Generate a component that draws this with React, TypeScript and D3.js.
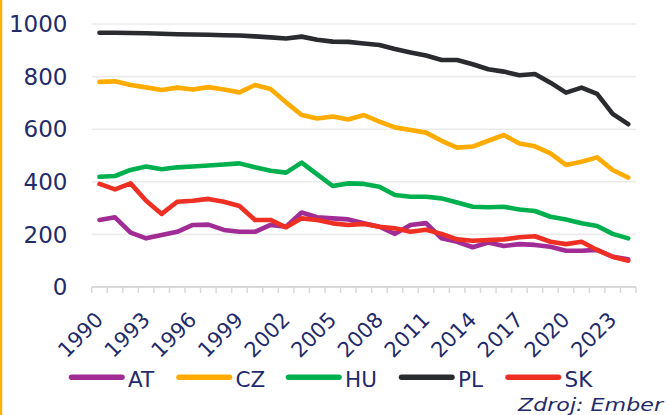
import React from "react";
import * as d3 from "d3";

const years = d3.range(1990, 2025).map(String);
const tickYears = ["1990", "1993", "1996", "1999", "2002", "2005", "2008", "2011", "2014", "2017", "2020", "2023"];
const yTicks = [0, 200, 400, 600, 800, 1000];

const AT = [255, 265, 207, 185, 198, 210, 236, 237, 217, 210, 210, 236, 229, 283, 265, 261, 257, 242, 229, 202, 236, 243, 185, 172, 151, 169, 156, 163, 160, 153, 138, 138, 141, 115, 105];
const CZ = [780, 782, 768, 759, 749, 758, 751, 760, 751, 740, 768, 753, 702, 654, 641, 648, 637, 654, 629, 607, 597, 587, 556, 530, 534, 556, 578, 546, 535, 508, 464, 476, 493, 445, 416];
const HU = [419, 422, 445, 458, 448, 455, 458, 462, 466, 470, 455, 442, 435, 473, 428, 384, 394, 392, 381, 350, 343, 343, 337, 321, 305, 303, 305, 295, 289, 267, 257, 242, 232, 202, 185];
const PL = [967, 967, 966, 965, 963, 961, 960, 959, 957, 956, 953, 949, 945, 952, 940, 933, 932, 926, 920, 905, 892, 880, 863, 863, 847, 828, 819, 805, 810, 777, 739, 758, 734, 658, 619];
const SK = [392, 371, 394, 328, 278, 324, 328, 335, 324, 308, 255, 255, 227, 261, 255, 242, 236, 240, 229, 223, 210, 218, 202, 181, 176, 179, 181, 189, 193, 172, 163, 172, 141, 115, 100];

const seriesNames = ["AT", "CZ", "HU", "PL", "SK"];
const seriesValues = [AT, CZ, HU, PL, SK];
const seriesColors = ["#A12C95", "#FFAB00", "#00B04F", "#2A2B2F", "#EE3024"];

const TEXT = "#1F2B6B";
const FONT = "'DejaVu Sans', sans-serif";

export default function App() {
  const W = 668, H = 415;
  const x = d3.scaleBand<string>().domain(years).range([91.7, 636]).padding(0);
  const y = d3.scaleLinear().domain([0, 1000]).range([287, 24]);
  const cx = (yr: string) => (x(yr) as number) + x.bandwidth() / 2;
  const line = d3
    .line<number>()
    .x((_, i) => cx(years[i]))
    .y((v) => y(v));
  const legendX = [69, 176.5, 286, 399, 505.5];
  const boundaries = years.map((yr) => x(yr) as number).concat([636]);

  return (
    <svg width={W} height={H} style={{ position: "absolute", left: 0, top: 0, background: "#fff" }} fontFamily={FONT}>
      <rect x={0} y={0} width={W} height={H} fill="#fff" />
      <rect x={0} y={0} width={2.2} height={H} fill="#FFB000" />
      {yTicks.filter((t) => t > 0).map((t) => (
        <line key={t} x1={91.7} x2={636} y1={y(t)} y2={y(t)} stroke="#EBEBEB" strokeWidth={1.6} />
      ))}
      {yTicks.map((t) => (
        <text key={"yl" + t} x={67.5} y={y(t)} dy="0.36em" textAnchor="end" fontSize={23} fill={TEXT}>
          {t}
        </text>
      ))}
      <line x1={91.7} x2={636} y1={287} y2={287} stroke="#D9D9D9" strokeWidth={2} />
      {boundaries.map((b, i) => (
        <line key={"tk" + i} x1={b} x2={b} y1={287} y2={293} stroke="#D9D9D9" strokeWidth={1.5} />
      ))}
      {tickYears.map((yr) => (
        <text
          key={"xl" + yr}
          transform={`translate(${cx(yr) + 5},${321}) rotate(-45)`}
          textAnchor="end"
          fontSize={21}
          fill={TEXT}
        >
          {yr}
        </text>
      ))}
      {seriesValues.map((vals, i) => (
        <path
          key={seriesNames[i]}
          d={line(vals) || ""}
          fill="none"
          stroke={seriesColors[i]}
          strokeWidth={4.6}
          strokeLinejoin="round"
          strokeLinecap="round"
        />
      ))}
      {seriesNames.map((n, i) => (
        <g key={"lg" + n}>
          <line
            x1={legendX[i] + 2.5}
            x2={legendX[i] + 53}
            y1={377.3}
            y2={377.3}
            stroke={seriesColors[i]}
            strokeWidth={5.5}
            strokeLinecap="round"
          />
          <text x={legendX[i] + 59} y={386.7} fontSize={21.5} fill={TEXT}>
            {n}
          </text>
        </g>
      ))}
      <text x={518} y={411} fontSize={18} fontStyle="italic" fill={TEXT} textLength={145} lengthAdjust="spacingAndGlyphs">
        Zdroj: Ember
      </text>
    </svg>
  );
}
